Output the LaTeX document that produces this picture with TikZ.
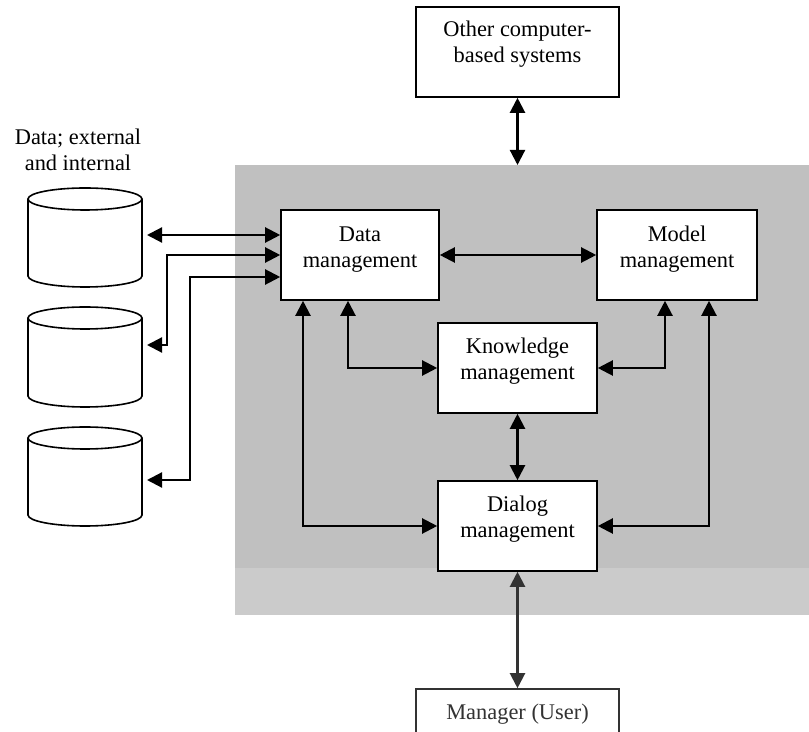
\documentclass[tikz,border=0pt]{standalone}
\usepackage{fontspec}
\setmainfont{Liberation Serif}
\usetikzlibrary{arrows.meta}
\definecolor{panel}{HTML}{C0C0C0}
\definecolor{panellow}{HTML}{CBCBCB}
\definecolor{dk}{HTML}{333333}
\begin{document}
\begin{tikzpicture}[x=0.5pt,y=0.5pt,
  box/.style={draw, line width=0.8pt, fill=white, inner sep=0pt},
  lbl/.style={font=\fontsize{11.2}{13.2}\selectfont, align=center, anchor=base, inner sep=0pt},
  arr/.style={{Triangle[length=7.5pt,width=7.5pt]}-{Triangle[length=7.5pt,width=7.5pt]}, line width=1.1pt},
  cylline/.style={draw, line width=0.8pt, fill=white}]
\useasboundingbox (0,0) rectangle (809,-732);
\clip (0,0) rectangle (809,-732);
% panel
\fill[panel] (235,-165) rectangle (809,-568);
\fill[panellow] (235,-568) rectangle (809,-615);
% boxes
\node[box, minimum width=101.5pt, minimum height=45pt] (oth) at (517.5,-52) {};
\node[box, minimum width=79pt, minimum height=45pt] (dm) at (360,-255) {};
\node[box, minimum width=80pt, minimum height=45pt] (mm) at (677,-255) {};
\node[box, minimum width=79.5pt, minimum height=45pt] (km) at (517.5,-368) {};
\node[box, minimum width=79.5pt, minimum height=45pt] (dlg) at (517.5,-526) {};
\node[box, draw=dk, minimum width=101.5pt, minimum height=30pt] (mgr) at (517.5,-719) {};
% labels (base anchor = baseline of the last line)
\node[lbl] (otht) at (517.5,-63) {Other computer-\\based systems};
\node[lbl] (dmt) at (360,-268) {Data\\management};
\node[lbl] (mmt) at (677,-268) {Model\\management};
\node[lbl] (kmt) at (517.5,-380) {Knowledge\\management};
\node[lbl] (dlgt) at (517.5,-538) {Dialog\\management};
\node[lbl, text=dk] (mgrt) at (517.5,-719) {Manager (User)};
\node[lbl] (dbt) at (78,-171) {Data; external\\and internal};
% cylinders
\foreach \t/\b in {199/276, 318/396, 438/515}{
  \draw[cylline] (28,-\t) -- (28,-\b) arc[start angle=180,end angle=360,x radius=57,y radius=11]
    -- (142,-\t) arc[start angle=0,end angle=180,x radius=57,y radius=11] -- cycle;
  \draw[line width=0.8pt] (28,-\t) arc[start angle=180,end angle=360,x radius=57,y radius=11];
}
\coordinate (c1) at (147,-235);
\coordinate (c2) at (147,-345);
\coordinate (c3) at (147,-480);
\coordinate (j2) at (167,-255);
\coordinate (j3) at (190,-277);
\coordinate (gtop) at (517.5,-165);
% connectors
\draw[arr] (c1) -- (c1 -| dm.west);
\draw[arr] (c2) -| (j2) -- (j2 -| dm.west);
\draw[arr] (c3) -| (j3) -- (j3 -| dm.west);
\draw[arr] (oth.south) -- (gtop);
\draw[arr] (dm.east) -- (mm.west);
\draw[arr] ([xshift=-6pt]dm.south) |- (km.west);
\draw[arr] ([xshift=-6pt]mm.south) |- (km.east);
\draw[arr] (km.south) -- (dlg.north);
\draw[arr] ([xshift=-28.5pt]dm.south) |- (dlg.west);
\draw[arr] ([xshift=16pt]mm.south) |- (dlg.east);
\draw[arr, dk] (dlg.south) -- (mgr.north);
\end{tikzpicture}
\end{document}
